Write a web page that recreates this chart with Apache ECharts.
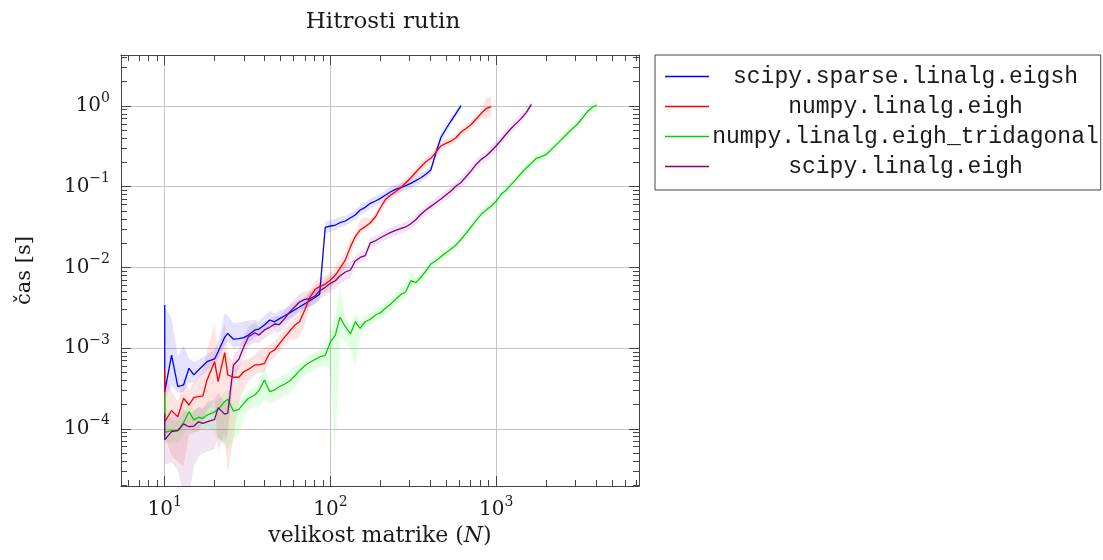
<!DOCTYPE html>
<html>
<head>
<meta charset="utf-8">
<title>Hitrosti rutin</title>
<script src="https://cdn.jsdelivr.net/npm/echarts@6/dist/echarts.min.js"></script>
<style>
html, body { margin: 0; padding: 0; background: #fff; }
#chart { width: 1103px; height: 560px; }
</style>
</head>
<body>
<div id="chart"></div>
<script>
// velikosti matrik N (vse serije si delijo iste N, daljse serije gredo dlje)
var sizes = [10, 10, 11, 12, 13, 14, 15, 16, 17, 18,
  20, 21, 23, 24, 26, 28, 30, 32, 35, 37,
  40, 43, 46, 49, 53, 57, 61, 65, 70, 75,
  81, 86, 93, 100, 107, 114, 123, 132, 141, 151,
  162, 174, 187, 200, 215, 231, 247, 265, 284, 305,
  327, 351, 376, 403, 432, 464, 497, 533, 572, 613,
  657, 705, 756, 811, 869, 932, 1000, 1072, 1149, 1232,
  1321, 1417, 1519, 1629, 1747, 1873, 2009, 2154, 2310, 2477,
  2656, 2848, 3053, 3274, 3511, 3764, 4037];

// casi v sekundah
var tSparse = [3.42e-3, 2.86e-4, 8.2e-4, 3.32e-4, 3.49e-4, 5.62e-4, 4.65e-4, 5.36e-4, 6.05e-4, 6.78e-4,
  7.33e-4, 9.0e-4, 1.36e-3, 1.52e-3, 1.29e-3, 1.31e-3, 1.35e-3, 1.45e-3, 1.68e-3, 1.72e-3,
  1.93e-3, 2.23e-3, 2.12e-3, 2.30e-3, 2.52e-3, 2.75e-3, 2.99e-3, 3.23e-3, 3.55e-3, 3.87e-3,
  4.26e-3, 4.64e-3, 3.14e-2, 3.26e-2, 3.35e-2, 3.58e-2, 3.76e-2, 4.13e-2, 4.46e-2, 5.14e-2,
  5.55e-2, 6.23e-2, 6.65e-2, 7.18e-2, 7.89e-2, 8.67e-2, 9.29e-2, 9.72e-2, 0.103, 0.110,
  0.119, 0.129, 0.143, 0.161, 0.262, 0.41, 0.519, 0.652, 0.813, 1.01];
var tNumpy = [5.6e-4, 1.22e-4, 1.68e-4, 1.41e-4, 2.39e-4, 1.97e-4, 2.45e-4, 2.50e-4, 2.55e-4, 4.03e-4,
  6.79e-4, 3.84e-4, 8.77e-4, 4.65e-4, 4.35e-4, 4.35e-4, 5.10e-4, 5.46e-4, 6.18e-4, 6.18e-4,
  6.48e-4, 8.77e-4, 9.47e-4, 1.12e-3, 1.38e-3, 1.64e-3, 1.93e-3, 2.12e-3, 2.96e-3, 4.26e-3,
  5.36e-3, 5.77e-3, 6.22e-3, 6.98e-3, 8.05e-3, 9.75e-3, 1.24e-2, 1.81e-2, 2.40e-2, 2.91e-2,
  3.20e-2, 3.58e-2, 4.25e-2, 5.49e-2, 6.97e-2, 7.89e-2, 8.67e-2, 9.72e-2, 0.111, 0.129,
  0.151, 0.177, 0.204, 0.225, 0.267, 0.322, 0.345, 0.368, 0.405, 0.476,
  0.526, 0.590, 0.690, 0.807, 0.931, 0.986];
var tTridiag = [2.75e-4, 9.0e-5, 9.5e-5, 9.5e-5, 1.19e-4, 1.63e-4, 1.29e-4, 1.39e-4, 1.35e-4, 1.48e-4,
  1.62e-4, 1.74e-4, 2.17e-4, 2.32e-4, 1.66e-4, 1.74e-4, 2.07e-4, 2.39e-4, 2.62e-4, 2.97e-4,
  4.03e-4, 2.88e-4, 3.03e-4, 3.32e-4, 3.59e-4, 3.94e-4, 4.55e-4, 5.25e-4, 6.05e-4, 6.67e-4,
  7.26e-4, 7.76e-4, 8.13e-4, 1.20e-3, 1.45e-3, 2.41e-3, 1.84e-3, 1.50e-3, 2.12e-3, 1.76e-3,
  2.12e-3, 2.28e-3, 2.57e-3, 2.75e-3, 3.14e-3, 3.52e-3, 4.02e-3, 4.59e-3, 5.00e-3, 6.84e-3,
  6.47e-3, 7.54e-3, 9.02e-3, 1.10e-2, 1.21e-2, 1.36e-2, 1.52e-2, 1.69e-2, 1.90e-2, 2.22e-2,
  2.64e-2, 3.17e-2, 3.83e-2, 4.55e-2, 5.14e-2, 5.77e-2, 6.65e-2, 8.04e-2, 9.10e-2, 0.107,
  0.125, 0.147, 0.172, 0.195, 0.225, 0.236, 0.252, 0.290, 0.335, 0.386,
  0.446, 0.514, 0.582, 0.690, 0.835, 0.953, 1.03];
var tScipy = [1.56e-4, 7.27e-5, 9.2e-5, 9.5e-5, 1.15e-4, 1.06e-4, 1.08e-4, 1.22e-4, 1.17e-4, 1.22e-4,
  1.31e-4, 1.83e-4, 1.52e-4, 1.56e-4, 6.18e-4, 7.26e-4, 1.04e-3, 1.38e-3, 1.55e-3, 1.45e-3,
  1.68e-3, 1.81e-3, 1.99e-3, 1.95e-3, 2.34e-3, 2.83e-3, 3.26e-3, 3.72e-3, 4.02e-3, 4.09e-3,
  4.46e-3, 5.14e-3, 5.66e-3, 6.35e-3, 6.84e-3, 7.82e-3, 8.77e-3, 9.29e-3, 1.20e-2, 1.33e-2,
  1.40e-2, 2.02e-2, 2.14e-2, 2.33e-2, 2.52e-2, 2.72e-2, 2.88e-2, 3.02e-2, 3.17e-2, 3.48e-2,
  3.90e-2, 4.55e-2, 5.14e-2, 5.71e-2, 6.34e-2, 7.04e-2, 7.89e-2, 8.85e-2, 0.102, 0.113,
  0.133, 0.157, 0.189, 0.218, 0.240, 0.277, 0.322, 0.379, 0.450, 0.530,
  0.610, 0.703, 0.835, 1.05];

// razpon meritev: faktor navzgor (up) in navzdol (dn) glede na povprecje
var upSparse = [1.09, 11.3, 2.87, 2.35, 3.13, 1.33, 1.45, 1.33, 1.29, 1.22,
  1.29, 1.33, 1.98, 1.67, 1.58, 1.58, 1.58, 1.53, 1.33, 1.26,
  1.3, 1.3, 1.26, 1.26, 1.22, 1.22, 1.22, 1.22, 1.22, 1.26,
  1.22, 1.22, 1.19, 1.19, 1.19, 1.19, 1.15, 1.15, 1.15, 1.15,
  1.15, 1.15, 1.15, 1.15, 1.15, 1.15, 1.15, 1.15, 1.15, 1.15,
  1.15, 1.15, 1.12, 1.12, 1.12, 1.12, 1.12, 1.1, 1.1, 1.08];
var dnSparse = [1.15, 1.26, 2.35, 1.19, 1.22, 1.49, 1.26, 1.26, 1.29, 1.26,
  1.22, 1.26, 1.26, 1.29, 1.26, 1.26, 1.26, 1.26, 1.22, 1.19,
  1.19, 1.19, 1.19, 1.19, 1.19, 1.19, 1.19, 1.19, 1.19, 1.19,
  1.19, 1.19, 1.19, 1.19, 1.15, 1.15, 1.15, 1.15, 1.15, 1.15,
  1.15, 1.15, 1.15, 1.15, 1.15, 1.15, 1.15, 1.15, 1.15, 1.15,
  1.15, 1.15, 1.12, 1.12, 1.12, 1.12, 1.12, 1.1, 1.1, 1.08];
var upNumpy = [1.26, 3.61, 1.77, 1.53, 1.77, 1.53, 1.53, 1.77, 2.04, 2.35,
  2.96, 2.35, 2.35, 1.77, 1.53, 1.41, 1.41, 1.33, 1.33, 1.53,
  1.53, 1.26, 1.26, 1.26, 1.26, 1.26, 1.26, 1.26, 1.26, 1.26,
  1.26, 1.26, 1.26, 1.26, 1.26, 1.26, 1.26, 1.26, 1.12, 1.33,
  1.33, 1.12, 1.12, 1.12, 1.12, 1.12, 1.12, 1.12, 1.12, 1.12,
  1.12, 1.12, 1.12, 1.12, 1.12, 1.12, 1.12, 1.12, 1.12, 1.12,
  1.12, 1.12, 1.12, 1.12, 1.33, 1.33];
var dnNumpy = [1.26, 1.53, 3.61, 3.61, 6.96, 2.35, 2.71, 2.71, 2.04, 2.35,
  3.13, 7.4, 9.8, 16.4, 5.53, 2.04, 1.67, 1.41, 1.33, 1.26,
  1.26, 1.26, 1.26, 1.26, 1.26, 1.26, 1.53, 1.53, 1.53, 1.26,
  1.26, 1.26, 1.26, 1.26, 1.26, 1.26, 1.26, 1.26, 1.12, 1.12,
  1.12, 1.12, 1.12, 1.12, 1.12, 1.12, 1.12, 1.12, 1.12, 1.12,
  1.12, 1.12, 1.12, 1.12, 1.12, 1.12, 1.12, 1.12, 1.12, 1.12,
  1.12, 1.12, 1.12, 1.12, 1.33, 1.33];
var upTridiag = [1.26, 2.35, 1.33, 1.33, 1.33, 1.33, 1.33, 1.33, 1.33, 1.33,
  1.33, 1.33, 1.33, 1.33, 1.33, 1.33, 1.26, 1.26, 1.26, 1.33,
  1.45, 1.33, 1.33, 1.33, 1.33, 1.33, 1.33, 1.22, 1.22, 1.22,
  1.22, 1.22, 1.22, 1.53, 1.77, 2.35, 1.33, 1.26, 1.26, 1.26,
  1.19, 1.19, 1.19, 1.19, 1.19, 1.19, 1.19, 1.19, 1.19, 1.33,
  1.12, 1.12, 1.12, 1.12, 1.12, 1.12, 1.12, 1.12, 1.12, 1.12,
  1.12, 1.12, 1.12, 1.12, 1.12, 1.12, 1.12, 1.12, 1.12, 1.12,
  1.12, 1.12, 1.12, 1.12, 1.12, 1.12, 1.12, 1.12, 1.12, 1.12,
  1.12, 1.12, 1.12, 1.12, 1.12, 1.12, 1.26];
var dnTridiag = [1.26, 1.33, 1.41, 1.41, 1.41, 1.41, 1.41, 1.41, 1.41, 1.41,
  1.77, 2.35, 3.61, 4.16, 2.35, 2.04, 1.41, 1.41, 1.41, 1.62,
  1.77, 1.41, 1.41, 1.41, 1.41, 1.41, 1.41, 1.33, 1.33, 1.33,
  1.33, 1.33, 1.33, 2.35, 30.7, 1.77, 1.53, 1.53, 3.61, 1.33,
  1.19, 1.19, 1.19, 1.19, 1.19, 1.19, 1.19, 1.19, 1.19, 1.19,
  1.12, 1.12, 1.12, 1.12, 1.12, 1.12, 1.12, 1.12, 1.12, 1.12,
  1.12, 1.12, 1.12, 1.12, 1.12, 1.12, 1.12, 1.12, 1.12, 1.12,
  1.12, 1.12, 1.12, 1.12, 1.12, 1.12, 1.12, 1.12, 1.12, 1.12,
  1.12, 1.12, 1.12, 1.12, 1.12, 1.12, 1.26];
var upScipy = [1.26, 1.77, 1.53, 1.53, 1.53, 1.41, 1.53, 1.53, 1.53, 1.77,
  1.77, 1.53, 1.41, 1.41, 1.33, 1.33, 1.33, 1.33, 1.33, 1.26,
  1.26, 1.26, 1.26, 1.26, 1.26, 1.26, 1.26, 1.26, 1.26, 1.26,
  1.26, 1.26, 1.26, 1.26, 1.26, 1.26, 1.26, 1.26, 1.15, 1.15,
  1.15, 1.15, 1.15, 1.15, 1.15, 1.15, 1.15, 1.15, 1.15, 1.15,
  1.15, 1.15, 1.15, 1.15, 1.15, 1.15, 1.15, 1.15, 1.15, 1.15,
  1.15, 1.15, 1.15, 1.15, 1.15, 1.15, 1.15, 1.15, 1.15, 1.15,
  1.15, 1.15, 1.12, 1.09];
var dnScipy = [1.26, 2.04, 2.35, 3.13, 7.4, 7.4, 3.13, 2.71, 2.35, 2.35,
  2.35, 2.35, 2.35, 1.77, 1.53, 1.33, 1.33, 1.33, 1.33, 1.26,
  1.26, 1.26, 1.26, 1.26, 1.26, 1.26, 1.26, 1.26, 1.26, 1.26,
  1.26, 1.26, 1.26, 1.26, 1.26, 1.26, 1.26, 1.26, 1.15, 1.15,
  1.15, 1.15, 1.15, 1.15, 1.15, 1.15, 1.15, 1.15, 1.15, 1.15,
  1.15, 1.15, 1.15, 1.15, 1.15, 1.15, 1.15, 1.15, 1.15, 1.15,
  1.15, 1.15, 1.15, 1.15, 1.15, 1.15, 1.15, 1.15, 1.15, 1.15,
  1.15, 1.15, 1.12, 1.09];

// oznake osi (eksponenti desetic)
var xMajor = [1, 2, 3];
var yMajor = [-4, -3, -2, -1, 0];

var methods = [
  { name: 'scipy.sparse.linalg.eigsh', t: tSparse, up: upSparse, dn: dnSparse, color: '#0000ff', fill: 'rgba(0,0,255,0.11)' },
  { name: 'numpy.linalg.eigh', t: tNumpy, up: upNumpy, dn: dnNumpy, color: '#ff0000', fill: 'rgba(255,0,0,0.11)' },
  { name: 'numpy.linalg.eigh_tridagonal', t: tTridiag, up: upTridiag, dn: dnTridiag, color: '#00d000', fill: 'rgba(0,255,0,0.11)' },
  { name: 'scipy.linalg.eigh', t: tScipy, up: upScipy, dn: dnScipy, color: '#800080', fill: 'rgba(128,0,128,0.11)' }
];

// obseg osi v log10
var xRange = [Math.log10(5.45), Math.log10(7260)];
var yRange = [Math.log10(1.954e-5), Math.log10(4.29)];

function minorTicks(range) {
  var out = [];
  for (var d = Math.floor(range[0]); d <= Math.ceil(range[1]); d++) {
    for (var k = 2; k <= 9; k++) {
      var v = d + Math.log10(k);
      if (v > range[0] && v < range[1]) out.push(v);
    }
  }
  return out;
}
var xMinor = minorTicks(xRange);
var yMinor = minorTicks(yRange);

var serif = 'DejaVu Serif';
var ink = '#1a1a1a';
var frame = '#444';

function expLabel(v) {
  var e = Math.round(v);
  return '{b|10}{s|' + (e < 0 ? '\u2212' + (-e) : e) + '}';
}
var labelRich = {
  b: { fontFamily: serif, fontSize: 20, lineHeight: 30, color: ink },
  s: { fontFamily: serif, fontSize: 14, lineHeight: 16, verticalAlign: 'top', color: ink }
};

function makeAxis(pos, range, ticks, len, extra) {
  var a = {
    type: 'value', position: pos, min: range[0], max: range[1],
    axisLine: { show: false, onZero: false },
    axisTick: { show: true, inside: true, length: len, customValues: ticks, lineStyle: { color: frame, width: 1 } },
    axisLabel: { show: false },
    splitLine: { show: false }
  };
  return Object.assign(a, extra || {});
}

var frameLine = { show: true, onZero: false, lineStyle: { color: frame, width: 1 } };
var gridLine = { show: true, lineStyle: { color: '#c4c4c4', width: 1 } };

var xAxes = [
  makeAxis('bottom', xRange, xMajor, 10, {
    axisLine: frameLine,
    axisLabel: { show: true, customValues: xMajor, margin: 9, formatter: expLabel, rich: labelRich },
    splitLine: gridLine,
    name: 'velikost matrike ({i|N})', nameLocation: 'middle', nameGap: 37,
    nameTextStyle: { fontFamily: serif, fontSize: 22, color: ink,
      rich: { i: { fontFamily: serif, fontSize: 22, fontStyle: 'italic', color: ink } } }
  }),
  makeAxis('bottom', xRange, xMinor, 6),
  makeAxis('top', xRange, xMajor, 10, { axisLine: frameLine }),
  makeAxis('top', xRange, xMinor, 6)
];
var yAxes = [
  makeAxis('left', yRange, yMajor, 10, {
    axisLine: frameLine,
    axisLabel: { show: true, customValues: yMajor, margin: 11, formatter: expLabel, rich: labelRich },
    splitLine: gridLine,
    name: 'čas [s]', nameLocation: 'middle', nameGap: 86,
    nameTextStyle: { fontFamily: serif, fontSize: 21, color: ink }
  }),
  makeAxis('left', yRange, yMinor, 6),
  makeAxis('right', yRange, yMajor, 10, { axisLine: frameLine }),
  makeAxis('right', yRange, yMinor, 6)
];

function bandSeries(m) {
  var pts = m.t.map(function (v, i) {
    return [Math.log10(sizes[i]), Math.log10(v / m.dn[i]), Math.log10(v * m.up[i])];
  });
  return {
    type: 'custom', name: m.name + ' razpon', silent: true, clip: true, z: 1,
    xAxisIndex: 0, yAxisIndex: 0,
    data: pts, encode: { x: 0, y: [1, 2] },
    renderItem: function (params, api) {
      if (params.dataIndex !== 0) return null;
      var upper = [], lower = [];
      for (var i = 0; i < pts.length; i++) {
        upper.push(api.coord([pts[i][0], pts[i][2]]));
        lower.unshift(api.coord([pts[i][0], pts[i][1]]));
      }
      return { type: 'polygon', shape: { points: upper.concat(lower) }, style: { fill: m.fill } };
    }
  };
}

function lineSeries(m) {
  return {
    type: 'line', name: m.name, xAxisIndex: 0, yAxisIndex: 0, z: 3,
    showSymbol: false, symbol: 'none', clip: true,
    color: m.color,
    lineStyle: { color: m.color, width: 1.3 },
    emphasis: { disabled: true },
    data: m.t.map(function (v, i) { return [Math.log10(sizes[i]), Math.log10(v)]; })
  };
}

var series = methods.map(bandSeries).concat(methods.map(lineSeries));

var chart = echarts.init(document.getElementById('chart'));
chart.setOption({
  animation: false,
  backgroundColor: '#fff',
  title: {
    text: 'Hitrosti rutin', left: 378, top: 6, textAlign: 'center',
    textStyle: { fontFamily: serif, fontSize: 23, fontWeight: 'normal', color: ink }
  },
  grid: { left: 121, top: 55, width: 518, height: 431, containLabel: false, outerBoundsMode: 'none' },
  legend: {
    orient: 'vertical', left: 655, top: 55,
    padding: [10, 2, 12, 10], itemGap: 7,
    itemWidth: 44, itemHeight: 1.5, icon: 'rect',
    borderColor: frame, borderWidth: 1, selectedMode: false,
    data: methods.map(function (m) { return m.name; }),
    formatter: function (name) { return '{c|' + name + '}'; },
    textStyle: {
      color: ink,
      rich: { c: { width: 383, align: 'center', fontFamily: 'Liberation Mono', fontSize: 23, lineHeight: 23, color: ink } }
    }
  },
  xAxis: xAxes,
  yAxis: yAxes,
  series: series
});
</script>
</body>
</html>
